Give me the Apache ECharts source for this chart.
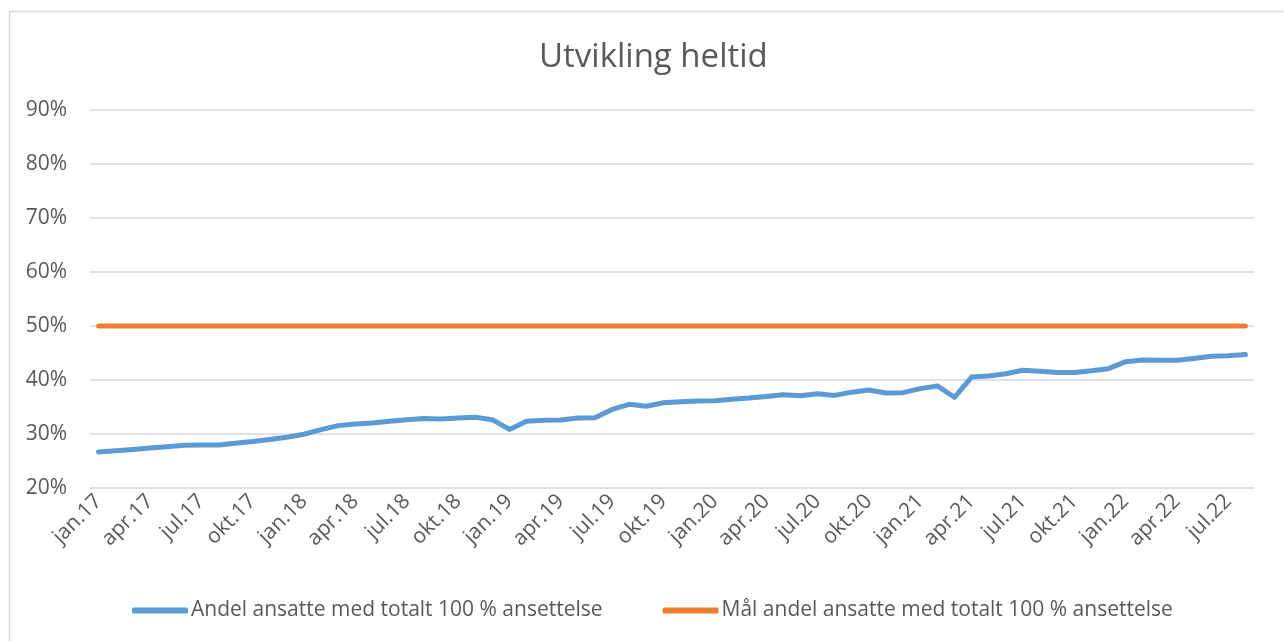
<!DOCTYPE html>
<html>
<head>
<meta charset="utf-8">
<script src="https://cdn.jsdelivr.net/npm/echarts@6/dist/echarts.min.js"></script>
<style>
  html, body { margin: 0; padding: 0; background: #fff; }
  #chart { width: 1284px; height: 641px; }
</style>
</head>
<body>
<div id="chart"></div>
<script>
// månedlige kategorier jan.17 – aug.22
const categories = [
  'jan.17', 'feb.17', 'mar.17', 'apr.17', 'mai.17', 'jun.17', 'jul.17', 'aug.17', 'sep.17', 'okt.17', 'nov.17', 'des.17',
  'jan.18', 'feb.18', 'mar.18', 'apr.18', 'mai.18', 'jun.18', 'jul.18', 'aug.18', 'sep.18', 'okt.18', 'nov.18', 'des.18',
  'jan.19', 'feb.19', 'mar.19', 'apr.19', 'mai.19', 'jun.19', 'jul.19', 'aug.19', 'sep.19', 'okt.19', 'nov.19', 'des.19',
  'jan.20', 'feb.20', 'mar.20', 'apr.20', 'mai.20', 'jun.20', 'jul.20', 'aug.20', 'sep.20', 'okt.20', 'nov.20', 'des.20',
  'jan.21', 'feb.21', 'mar.21', 'apr.21', 'mai.21', 'jun.21', 'jul.21', 'aug.21', 'sep.21', 'okt.21', 'nov.21', 'des.21',
  'jan.22', 'feb.22', 'mar.22', 'apr.22', 'mai.22', 'jun.22', 'jul.22', 'aug.22',
];

// andel ansatte med totalt 100 % ansettelse (prosent)
const andelHeltid = [
  26.65, 26.9, 27.15, 27.4, 27.65, 27.9, 27.95, 27.95, 28.3, 28.6, 29.0, 29.4,
  29.95, 30.8, 31.55, 31.85, 32.05, 32.35, 32.65, 32.85, 32.8, 32.95, 33.1, 32.65,
  30.85, 32.35, 32.55, 32.6, 32.95, 33.0, 34.55, 35.5, 35.15, 35.8, 35.95, 36.1,
  36.15, 36.45, 36.65, 36.95, 37.25, 37.1, 37.45, 37.15, 37.75, 38.15, 37.6, 37.65,
  38.4, 38.9, 36.8, 40.55, 40.75, 41.15, 41.8, 41.6, 41.4, 41.4, 41.7, 42.1,
  43.4, 43.7, 43.65, 43.65, 44.0, 44.4, 44.5, 44.7,
];

// mål: 50 % hele perioden
const maal = [
  50, 50, 50, 50, 50, 50, 50, 50, 50, 50, 50, 50,
  50, 50, 50, 50, 50, 50, 50, 50, 50, 50, 50, 50,
  50, 50, 50, 50, 50, 50, 50, 50, 50, 50, 50, 50,
  50, 50, 50, 50, 50, 50, 50, 50, 50, 50, 50, 50,
  50, 50, 50, 50, 50, 50, 50, 50, 50, 50, 50, 50,
  50, 50, 50, 50, 50, 50, 50, 50,
];

const seriesNames = [
  'Andel ansatte med totalt 100 % ansettelse',
  'Mål andel ansatte med totalt 100 % ansettelse',
];

const FONT = '"Open Sans", "Noto Sans", sans-serif';
const TEXT = '#595959';
const GRID = '#d9d9d9';
const BLUE = '#5b9bd5';
const ORANGE = '#ed7d31';

const chart = echarts.init(document.getElementById('chart'), null, { renderer: 'canvas' });

chart.setOption({
  animation: false,
  textStyle: { fontFamily: FONT },
  title: {
    text: 'Utvikling heltid',
    left: 534,
    top: 36,
    textStyle: { fontFamily: FONT, fontSize: 33, fontWeight: 'normal', color: TEXT },
  },
  graphic: [
    {
      type: 'rect',
      shape: { x: 9.5, y: 11.5, width: 1400, height: 800 },
      style: { fill: 'none', stroke: GRID, lineWidth: 1.5 },
      silent: true,
    },
  ],
  grid: { left: 90, right: 30, top: 110, bottom: 153 },
  legend: {
    left: 127,
    top: 595,
    itemGap: 60,
    itemWidth: 56,
    itemHeight: 6,
    icon: 'roundRect',
    textStyle: { fontFamily: FONT, fontSize: 21, color: TEXT, padding: [0, 0, 0, -2] },
    data: seriesNames,
  },
  xAxis: {
    type: 'category',
    data: categories,
    boundaryGap: true,
    axisLine: { show: false },
    axisTick: { show: false },
    axisLabel: {
      interval: 2,
      rotate: 45,
      margin: 10,
      fontFamily: FONT,
      fontSize: 21,
      color: TEXT,
    },
    splitLine: { show: false },
  },
  yAxis: {
    type: 'value',
    min: 20,
    max: 90,
    interval: 10,
    axisLine: { show: false },
    axisTick: { show: false },
    axisLabel: {
      formatter: '{value}%',
      margin: 23,
      fontFamily: FONT,
      fontSize: 21,
      color: TEXT,
    },
    splitLine: { lineStyle: { color: GRID, width: 1.5 } },
  },
  series: [
    {
      name: seriesNames[0],
      type: 'line',
      data: andelHeltid,
      symbol: 'none',
      color: BLUE,
      lineStyle: { width: 5, color: BLUE, cap: 'round', join: 'round' },
    },
    {
      name: seriesNames[1],
      type: 'line',
      data: maal,
      symbol: 'none',
      color: ORANGE,
      lineStyle: { width: 5, color: ORANGE, cap: 'round', join: 'round' },
    },
  ],
});
</script>
</body>
</html>
